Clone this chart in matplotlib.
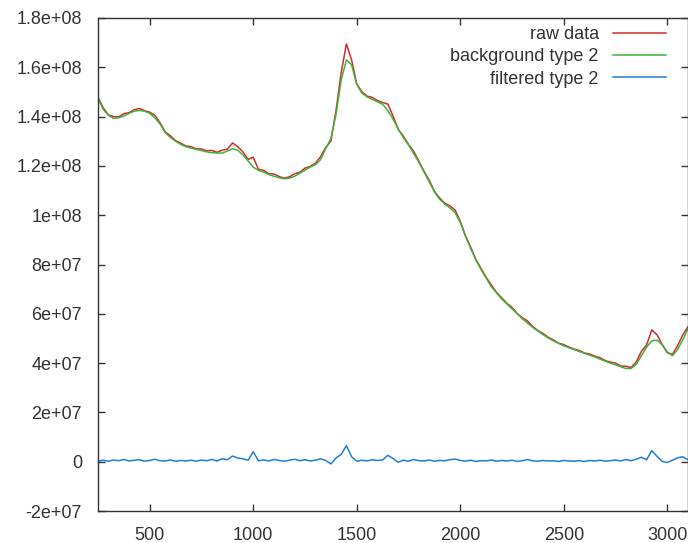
import matplotlib
matplotlib.use("Agg")
import matplotlib.pyplot as plt
import numpy as np

plt.rcParams['font.family'] = ['Liberation Sans', 'DejaVu Sans']

# wavenumber grid (step 25) and values in units of 1e6
x = np.arange(250, 3101, 25)

background = [147.5, 143.0, 140.5, 139.3, 139.5, 140.3, 141.3, 142.2, 142.5, 142.2,
              141.3, 139.5, 137.0, 133.5, 131.5, 130.0, 128.7, 127.8, 127.2, 126.7,
              126.2, 125.7, 125.4, 125.2, 125.2, 126.0, 127.0, 126.3, 124.5, 122.0,
              119.5, 118.2, 117.5, 116.5, 115.8, 115.2, 114.8, 115.0, 115.8, 117.0,
              118.3, 119.5, 120.5, 122.5, 127.0, 131.0, 141.0, 155.0, 163.0, 161.0,
              153.0, 149.5, 148.0, 147.0, 146.0, 145.0, 142.5, 139.0, 135.0, 131.5,
              128.5, 125.0, 121.5, 117.5, 113.5, 109.5, 106.5, 104.5, 103.0, 101.0,
              97.0, 91.5, 86.5, 82.0, 78.0, 74.5, 71.0, 68.5, 66.0, 64.0,
              62.0, 60.0, 58.0, 56.2, 54.5, 53.0, 51.5, 50.2, 49.0, 48.0,
              47.0, 46.2, 45.5, 44.7, 44.0, 43.2, 42.5, 41.6, 40.8, 40.0,
              39.3, 38.5, 37.8, 37.8, 39.5, 43.0, 46.5, 49.0, 49.3, 47.5,
              44.5, 43.0, 45.5, 49.5, 54.0]

filtered = [0.3, 0.6, 0.2, 0.7, 0.4, 0.9, 0.3, 0.6, 0.8, 0.2,
            0.5, 1.0, 0.4, 0.3, 0.7, 0.2, 0.5, 0.3, 0.6, 0.2,
            0.7, 0.4, 0.9, 0.3, 1.2, 0.8, 2.3, 1.5, 1.2, 0.6,
            4.0, 0.4, 0.7, 0.3, 0.9, 0.5, 0.2, 0.6, 1.0, 0.4,
            0.8, 0.3, 0.6, 1.2, 0.5, -0.9, 1.5, 3.0, 6.5, 2.0,
            0.2, 0.6, 0.3, 0.8, 0.5, 0.7, 2.6, 1.3, -0.2, 0.6,
            0.2, 0.9, 0.4, 0.3, 0.7, 0.2, 0.5, 0.4, 0.8, 1.1,
            0.5, 0.2, 0.6, 0.1, 0.4, 0.3, 0.7, 0.2, 0.5, 0.3,
            0.6, 0.1, 0.4, 0.9, 0.3, 0.2, 0.5, 0.3, 0.4, 0.1,
            0.5, 0.3, 0.2, 0.4, 0.1, 0.5, 0.3, 0.6, 0.2, 0.4,
            0.7, 0.3, 0.9, 0.4, 1.0, 1.8, 0.8, 4.5, 2.2, 0.1,
            -0.3, 0.6, 1.6, 2.0, 0.8]

raw = [147.8, 143.6, 140.7, 140.0, 139.9, 141.2, 141.6, 142.8, 143.3, 142.4,
       141.8, 140.5, 137.4, 133.8, 132.2, 130.2, 129.2, 128.1, 127.8, 126.9,
       126.9, 126.1, 126.3, 125.5, 126.4, 126.8, 129.3, 127.8, 125.7, 122.6,
       123.5, 118.6, 118.2, 116.8, 116.7, 115.7, 115.0, 115.6, 116.8, 117.4,
       119.1, 119.8, 121.1, 123.7, 127.5, 130.1, 142.5, 158.0, 169.5, 163.0,
       153.2, 150.1, 148.3, 147.8, 146.5, 145.7, 145.1, 140.3, 134.8, 132.1,
       128.7, 125.9, 121.9, 117.8, 114.2, 109.7, 107.0, 104.9, 103.8, 102.1,
       97.5, 91.7, 87.1, 82.1, 78.4, 74.8, 71.7, 68.7, 66.5, 64.3,
       62.6, 60.1, 58.4, 57.1, 54.8, 53.2, 52.0, 50.5, 49.4, 48.1,
       47.5, 46.5, 45.7, 45.1, 44.1, 43.7, 42.8, 42.2, 41.0, 40.4,
       40.0, 38.8, 38.7, 38.2, 40.5, 44.8, 47.3, 53.5, 51.5, 47.6,
       44.2, 43.6, 47.1, 51.5, 54.8]

labels = ['raw data', 'background type 2', 'filtered type 2']
colors = ['#d62a2a', '#3cb43c', '#1f7fd6']

fig = plt.figure(figsize=(6.88, 5.43), dpi=100)
ax = fig.add_axes([98/688, 32/543, 590/688, 493/543])

scale = 1e6
ax.plot(x, np.array(raw)*scale, color=colors[0], lw=1.1, label=labels[0])
ax.plot(x, np.array(background)*scale, color=colors[1], lw=1.1, label=labels[1])
ax.plot(x, np.array(filtered)*scale, color=colors[2], lw=1.1, label=labels[2])

ax.set_xlim(250, 3100)
ax.set_ylim(-2e7, 1.8e8)
ax.set_xticks([500, 1000, 1500, 2000, 2500, 3000])
yt = np.arange(-2e7, 1.81e8, 2e7)
ax.set_yticks(yt)
ax.set_yticklabels(['%g' % v for v in yt])

ax.tick_params(direction='in', length=5, width=1, top=True, right=True,
               labelsize=13, colors='#333333')
ax.tick_params(axis='y', pad=11.5)
ax.tick_params(axis='x', pad=11.5)
for s in ax.spines.values():
    s.set_color('#333333')
    s.set_linewidth(1)

ax.legend(loc='upper right', bbox_to_anchor=(0.9627, 0.984), frameon=False,
          markerfirst=False, fontsize=13, handlelength=2.95, handletextpad=0.78,
          labelspacing=0.3, borderaxespad=0, borderpad=0, labelcolor='#333333')

fig.savefig('out.png', dpi=100)
